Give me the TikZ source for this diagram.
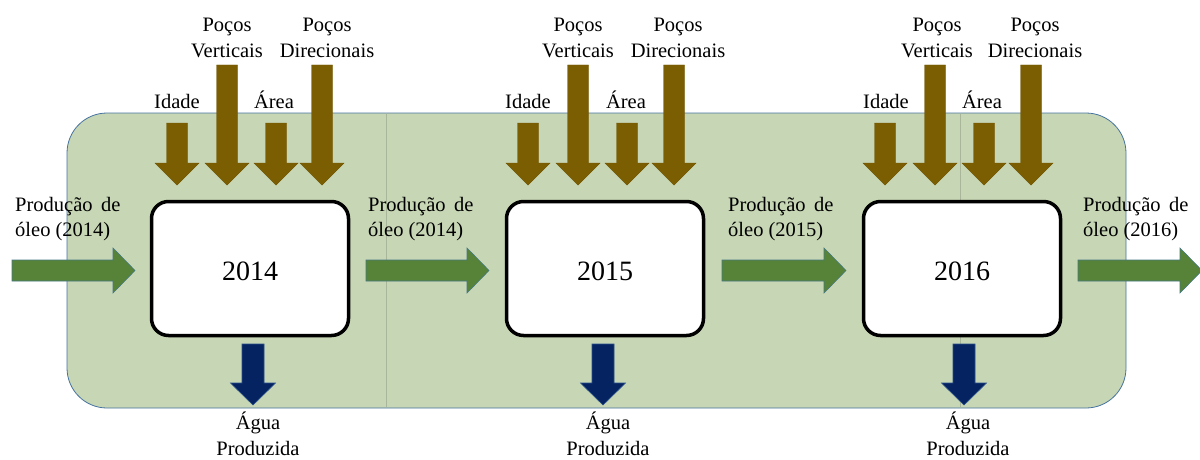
\documentclass[tikz,border=0pt]{standalone}
\usepackage{fontspec}
\setmainfont{Liberation Serif}
\definecolor{bgfill}{RGB}{199,214,180}
\definecolor{bgline}{RGB}{70,115,160}
\definecolor{brownar}{RGB}{124,94,2}
\definecolor{greenar}{RGB}{86,131,56}
\definecolor{greenln}{RGB}{70,120,130}
\definecolor{bluear}{RGB}{5,35,96}
\definecolor{blueln}{RGB}{40,80,140}
\tikzset{
  lbl/.style={font=\fontsize{20.5}{26}\selectfont, inner sep=0pt, align=center, anchor=base},
  prod/.style={font=\fontsize{20.5}{25}\selectfont, inner sep=0pt, align=left, anchor=base west},
  yearbox/.style={draw=black, line width=3.5pt, fill=white, rounded corners=17pt,
     minimum width=197pt, minimum height=134pt, inner sep=0pt,
     font=\fontsize{28}{30}\selectfont},
  brownstyle/.style={fill=brownar, draw=brownar!90!black, line width=0.4pt},
  greenstyle/.style={fill=greenar, draw=greenln, line width=0.6pt},
  bluestyle/.style={fill=bluear, draw=blueln, line width=0.6pt},
}
\newcommand\DnArrow[7]{% style, cx, top, headstart, tip, shaft half, head half
  \filldraw[#1] ({#2-#6},#3) -- ({#2+#6},#3) -- ({#2+#6},#4) -- ({#2+#7},#4) -- (#2,#5)
     -- ({#2-#7},#4) -- ({#2-#6},#4) -- cycle;}
\newcommand\RtArrow[3]{% x0, headstart, tip
  \filldraw[greenstyle] (#1,260) -- (#2,260) -- (#2,248) -- (#3,270.5) -- (#2,293)
     -- (#2,281) -- (#1,281) -- cycle;}
\begin{document}
\begin{tikzpicture}[x=1pt,y=-1pt]
\useasboundingbox (0,0) rectangle (1200,460);
% background panel
\filldraw[fill=bgfill, draw=bgline, line width=0.8pt, rounded corners=40pt]
  (67,113) rectangle (1126,408);
\draw[bgfill!85!black, line width=0.5pt] (386,114) -- (386,407);
\draw[bgfill!85!black, line width=0.5pt] (960,114) -- (960,407);

% year boxes
\node[yearbox] (b1) at (250,268.5) {};
\node[yearbox] (b2) at (605,268.5) {};
\node[yearbox] (b3) at (962,268.5) {};
\node[lbl, font=\fontsize{28}{30}\selectfont] (y1) at (250,280) {2014};
\node[lbl, font=\fontsize{28}{30}\selectfont] (y2) at (605,280) {2015};
\node[lbl, font=\fontsize{28}{30}\selectfont] (y3) at (962,280) {2016};

% brown input arrows
\foreach \cx/\tp in {177/123, 227/65, 276/123, 322/65,
                     528/123, 578/65, 627/123, 674/65,
                     885/123, 935/65, 984/123, 1031/65}{
  \DnArrow{brownstyle}{\cx}{\tp}{163}{185}{10.5}{22}
}
% labels above
\node[lbl] (id1) at (177,109) {Idade};
\node[lbl] (ar1) at (274,109) {Área};
\node[lbl] (pv1) at (227,58) {Poços\\Verticais};
\node[lbl] (pd1) at (327,58) {Poços\\Direcionais};
\node[lbl] (id2) at (528,109) {Idade};
\node[lbl] (ar2) at (626,109) {Área};
\node[lbl] (pv2) at (578,58) {Poços\\Verticais};
\node[lbl] (pd2) at (678,58) {Poços\\Direcionais};
\node[lbl] (id3) at (886,109) {Idade};
\node[lbl] (ar3) at (982,109) {Área};
\node[lbl] (pv3) at (937,58) {Poços\\Verticais};
\node[lbl] (pd3) at (1035,58) {Poços\\Direcionais};

% green production arrows
\RtArrow{12}{113}{135}
\RtArrow{366}{467}{489}
\RtArrow{722}{824}{846}
\RtArrow{1078}{1180}{1202}
\node[prod] (p1) at (15,236) {Produção \,de\\óleo (2014)};
\node[prod] (p2) at (368,236) {Produção \,de\\óleo (2014)};
\node[prod] (p3) at (728,236) {Produção \,de\\óleo (2015)};
\node[prod] (p4) at (1083,236) {Produção \,de\\óleo (2016)};

% blue output arrows
\DnArrow{bluestyle}{253}{344}{383}{405}{11}{22.5}
\DnArrow{bluestyle}{603}{344}{383}{405}{11}{22.5}
\DnArrow{bluestyle}{964}{344}{383}{405}{11}{22.5}
\node[lbl] (w1) at (258,455) {Água\\Produzida};
\node[lbl] (w2) at (608,455) {Água\\Produzida};
\node[lbl] (w3) at (968,455) {Água\\Produzida};
\end{tikzpicture}
\end{document}
